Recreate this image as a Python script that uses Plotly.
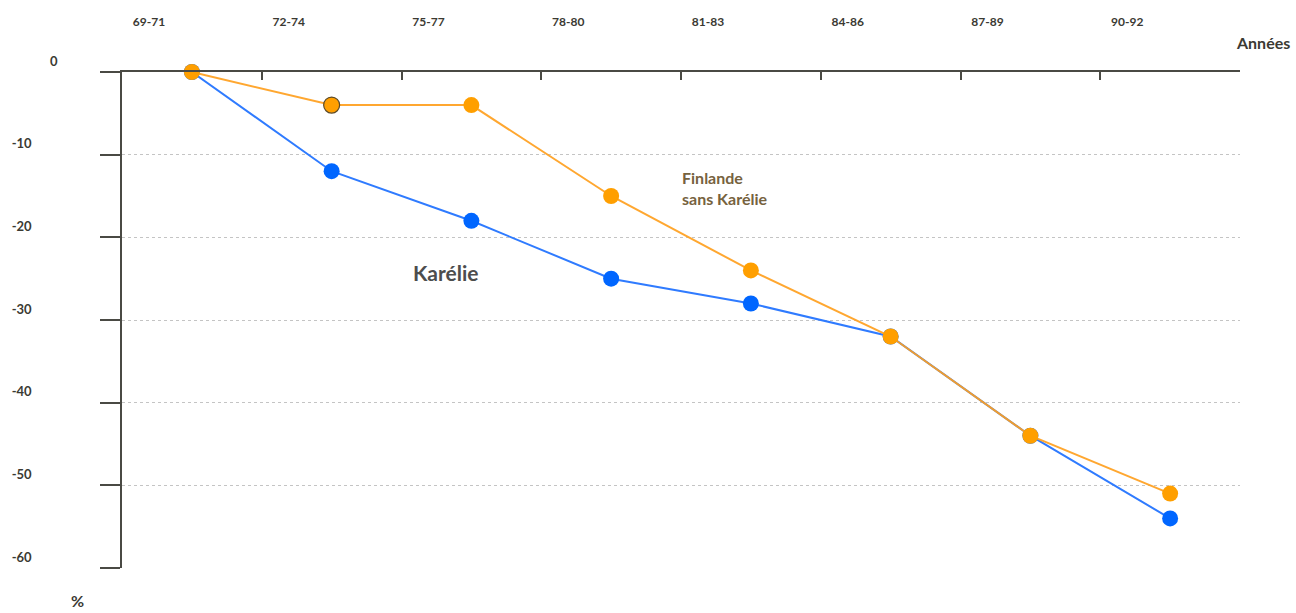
import plotly.graph_objects as go

periods = ["69-71", "72-74", "75-77", "78-80", "81-83", "84-86", "87-89", "90-92"]
karelie = [0, -12, -18, -25, -28, -32, -44, -54]
finlande = [0, -4, -4, -15, -24, -32, -44, -51]
y_ticks = [0, -10, -20, -30, -40, -50, -60]

x_idx = list(range(len(periods)))
boundaries = [i - 0.5 for i in range(len(periods) + 1)]
y_text = ["0"] + [f"{v}\u2003\u2003\u2002" for v in y_ticks[1:]]

AXIS = "#4a4a44"
TXT = "#3b3a33"

fig = go.Figure()
fig.add_trace(go.Scatter(
    x=x_idx, y=karelie, mode="lines+markers", name="Karélie",
    line=dict(color="#2f7bff", width=2),
    marker=dict(color="#0066ff", size=16, line=dict(width=0)),
    cliponaxis=False, showlegend=False,
))
fig.add_trace(go.Scatter(
    x=x_idx, y=finlande, mode="lines+markers", name="Finlande sans Karélie",
    line=dict(color="rgba(255,160,30,0.92)", width=2),
    marker=dict(color="#ff9f00", size=16,
                line=dict(color=["rgba(0,0,0,0)", "#5c4a28"] + ["rgba(0,0,0,0)"] * 6,
                          width=[0, 1.2, 0, 0, 0, 0, 0, 0])),
    cliponaxis=False, showlegend=False,
))

fig.add_annotation(x=3.49, y=-14.0, xref="x", yref="y", xanchor="left", yanchor="middle",
                   text="Finlande<br>sans Karélie", align="left", showarrow=False,
                   font=dict(family="Lato", size=16, color="#76623e", weight="bold"))
fig.add_annotation(x=1.57, y=-24.2, xref="x", yref="y", xanchor="left", yanchor="middle",
                   text="Karélie", showarrow=False,
                   font=dict(family="Lato", size=21, color="#4d4d4d", weight="bold"))
fig.add_annotation(x=1.0, y=1.0, xref="paper", yref="paper", xanchor="left", yanchor="bottom",
                   xshift=-6, yshift=18, text="Années", showarrow=False,
                   font=dict(family="Lato", size=16, color=TXT, weight="bold"))
fig.add_annotation(x=0.0, y=0.0, xref="paper", yref="paper", xanchor="center", yanchor="top",
                   xshift=-45, yshift=-21, text="%", showarrow=False,
                   font=dict(family="Lato", size=16, color=TXT, weight="bold"))

fig.update_xaxes(
    side="top", range=[-0.5, len(periods) - 0.5],
    tickmode="array", tickvals=boundaries, ticktext=periods + [""],
    ticks="inside", ticklen=8, tickwidth=1.5, tickcolor=AXIS,
    showline=True, linecolor=AXIS, linewidth=1.5,
    showgrid=False, zeroline=False,
    ticklabelshift=27, ticklabelstandoff=39,
    tickfont=dict(family="Lato", size=12, color=TXT, weight="bold"),
)
fig.update_yaxes(
    range=[-60, 0], tickmode="array", tickvals=y_ticks, ticktext=y_text,
    ticks="outside", ticklen=20, tickwidth=1.5, tickcolor=AXIS,
    showline=True, linecolor=AXIS, linewidth=1.5,
    showgrid=True, gridcolor="#c4c4c4", gridwidth=1, griddash="dot",
    zeroline=False,
    ticklabelshift=-11, ticklabelstandoff=40,
    tickfont=dict(family="Lato", size=13, color=TXT, weight="bold"),
)
fig.update_layout(
    width=1296, height=613,
    margin=dict(l=120, r=56, t=72, b=45),
    paper_bgcolor="white", plot_bgcolor="white",
)
fig.write_html("out.html", config={"displayModeBar": False},
               post_script="document.body.style.margin='0';document.body.style.overflow='hidden';")
